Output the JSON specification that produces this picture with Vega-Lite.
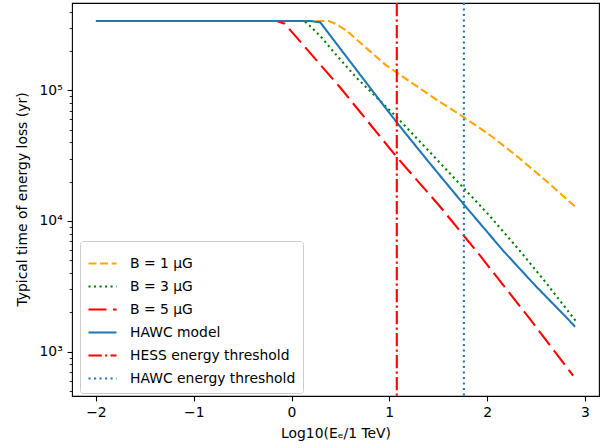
{
  "$schema": "https://vega.github.io/schema/vega-lite/v6.json",
  "autosize": {"type": "none"},
  "width": 527,
  "height": 393,
  "padding": {"left": 72, "top": 3, "right": 10, "bottom": 52},
  "background": "white",
  "config": {
    "view": {"stroke": "black", "strokeWidth": 1.1},
    "axis": {
      "labelFont": "DejaVu Sans", "labelFontSize": 13.9, "labelColor": "black",
      "titleFont": "DejaVu Sans", "titleFontSize": 13.9, "titleFontWeight": "normal", "titleColor": "black",
      "domain": false, "grid": false, "tickColor": "black", "tickWidth": 1.1, "tickSize": 4.9, "labelPadding": 4.9
    },
    "legend": {
      "orient": "none", "legendX": 8, "legendY": 238,
      "labelFont": "DejaVu Sans", "labelFontSize": 13.9, "labelColor": "black", "labelLimit": 400,
      "symbolType": "stroke", "symbolSize": 784, "symbolStrokeWidth": 2.08,
      "rowPadding": -5.4, "padding": 7, "labelOffset": 12,
      "strokeColor": "#cccccc", "fillColor": "rgba(255,255,255,0.8)", "cornerRadius": 3
    }
  },
  "datasets": {
    "curves": [
      {"series": "B = 1 μG", "x": -2, "y": 339600},
      {"series": "B = 1 μG", "x": 0.38, "y": 339600},
      {"series": "B = 1 μG", "x": 0.45, "y": 323600},
      {"series": "B = 1 μG", "x": 0.559, "y": 288400},
      {"series": "B = 1 μG", "x": 0.695, "y": 234400},
      {"series": "B = 1 μG", "x": 0.831, "y": 191000},
      {"series": "B = 1 μG", "x": 0.968, "y": 155600},
      {"series": "B = 1 μG", "x": 1.071, "y": 138000},
      {"series": "B = 1 μG", "x": 1.48, "y": 85110},
      {"series": "B = 1 μG", "x": 1.76, "y": 62520},
      {"series": "B = 1 μG", "x": 2.026, "y": 45710},
      {"series": "B = 1 μG", "x": 2.3, "y": 31620},
      {"series": "B = 1 μG", "x": 2.6, "y": 20420},
      {"series": "B = 1 μG", "x": 2.9, "y": 12880},
      {"series": "B = 3 μG", "x": -2, "y": 339600},
      {"series": "B = 3 μG", "x": 0.1, "y": 339600},
      {"series": "B = 3 μG", "x": 0.15, "y": 331100},
      {"series": "B = 3 μG", "x": 0.29, "y": 263000},
      {"series": "B = 3 μG", "x": 0.46, "y": 186200},
      {"series": "B = 3 μG", "x": 0.66, "y": 125900},
      {"series": "B = 3 μG", "x": 1.07, "y": 63100},
      {"series": "B = 3 μG", "x": 1.4, "y": 34670},
      {"series": "B = 3 μG", "x": 1.763, "y": 17780},
      {"series": "B = 3 μG", "x": 2.026, "y": 10960},
      {"series": "B = 3 μG", "x": 2.333, "y": 5943},
      {"series": "B = 3 μG", "x": 2.6, "y": 3388},
      {"series": "B = 3 μG", "x": 2.91, "y": 1706},
      {"series": "B = 5 μG", "x": -2, "y": 339600},
      {"series": "B = 5 μG", "x": -0.15, "y": 339600},
      {"series": "B = 5 μG", "x": -0.07, "y": 324300},
      {"series": "B = 5 μG", "x": 0.5, "y": 104700},
      {"series": "B = 5 μG", "x": 1.077, "y": 30830},
      {"series": "B = 5 μG", "x": 1.514, "y": 13030},
      {"series": "B = 5 μG", "x": 1.923, "y": 5495},
      {"series": "B = 5 μG", "x": 2.438, "y": 1778},
      {"series": "B = 5 μG", "x": 2.88, "y": 655},
      {"series": "HAWC model", "x": -2, "y": 339600},
      {"series": "HAWC model", "x": 0.2, "y": 339600},
      {"series": "HAWC model", "x": 0.295, "y": 331100},
      {"series": "HAWC model", "x": 0.6, "y": 166000},
      {"series": "HAWC model", "x": 0.9, "y": 84330},
      {"series": "HAWC model", "x": 1.087, "y": 55590},
      {"series": "HAWC model", "x": 1.4, "y": 28510},
      {"series": "HAWC model", "x": 1.763, "y": 13370},
      {"series": "HAWC model", "x": 2.163, "y": 5943},
      {"series": "HAWC model", "x": 2.5, "y": 3162},
      {"series": "HAWC model", "x": 2.827, "y": 1778},
      {"series": "HAWC model", "x": 2.9, "y": 1549}
    ],
    "thresholds": [
      {"series": "HESS energy threshold", "x": 1.077},
      {"series": "HAWC energy threshold", "x": 1.763}
    ]
  },
  "layer": [
    {
      "data": {"name": "curves"},
      "mark": {"type": "line", "strokeWidth": 2.08, "strokeCap": "butt", "clip": true},
      "encoding": {
        "x": {
          "field": "x", "type": "quantitative",
          "scale": {"domain": [-2.245, 3.145], "nice": false, "zero": false},
          "axis": {"values": [-2, -1, 0, 1, 2, 3], "format": "d", "title": "Log10(Eₑ/1 TeV)", "titleY": 37, "titleBaseline": "middle"}
        },
        "y": {
          "field": "y", "type": "quantitative",
          "scale": {"type": "log", "domain": [457, 466700], "nice": false, "zero": false},
          "axis": {
            "title": "Typical time of energy loss (yr)",
            "titleX": -50, "titleY": 196, "titleAngle": 270, "titleAlign": "center", "titleBaseline": "middle",
            "values": [500, 600, 700, 800, 900, 1000, 2000, 3000, 4000, 5000, 6000, 7000, 8000, 9000, 10000, 20000, 30000, 40000, 50000, 60000, 70000, 80000, 90000, 100000, 200000, 300000, 400000],
            "labelExpr": "datum.value == 1000 ? '10³' : datum.value == 10000 ? '10⁴' : datum.value == 100000 ? '10⁵' : ''",
            "tickSize": {"condition": {"test": "datum.value == 1000 || datum.value == 10000 || datum.value == 100000", "value": 4.9}, "value": 2.8},
            "tickWidth": {"condition": {"test": "datum.value == 1000 || datum.value == 10000 || datum.value == 100000", "value": 1.1}, "value": 0.85}
          }
        },
        "color": {
          "field": "series", "type": "nominal",
          "scale": {
            "domain": ["B = 1 μG", "B = 3 μG", "B = 5 μG", "HAWC model", "HESS energy threshold", "HAWC energy threshold"],
            "range": ["#ffa500", "#008000", "#ff0000", "#1f77b4", "#ff0000", "#1f77b4"]
          },
          "legend": {"title": null}
        },
        "strokeDash": {
          "field": "series", "type": "nominal",
          "scale": {
            "domain": ["B = 1 μG", "B = 3 μG", "B = 5 μG", "HAWC model", "HESS energy threshold", "HAWC energy threshold"],
            "range": [[8, 3.6], [2.1, 3.4], [18, 6.5], [1, 0], [13.3, 3.3, 2.1, 3.3], [2.1, 3.4]]
          },
          "legend": {"title": null}
        }
      }
    },
    {
      "data": {"name": "thresholds"},
      "mark": {"type": "rule", "strokeWidth": 2.08, "strokeCap": "butt"},
      "encoding": {
        "x": {"field": "x", "type": "quantitative"},
        "color": {"field": "series", "type": "nominal"},
        "strokeDash": {"field": "series", "type": "nominal"}
      }
    }
  ]
}
